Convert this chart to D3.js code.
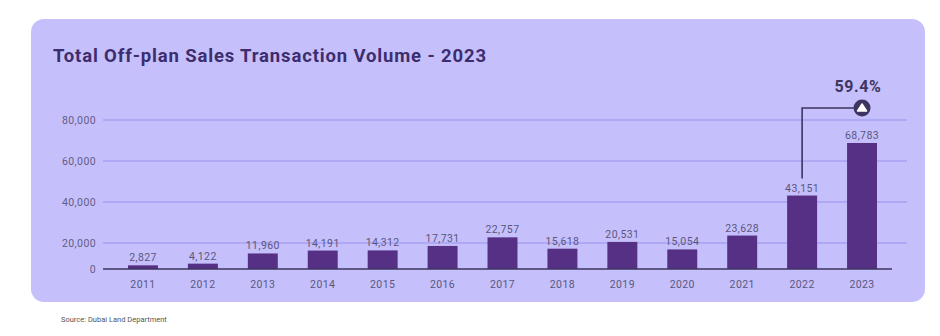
<!DOCTYPE html>
<html>
<head>
<meta charset="utf-8">
<script src="https://cdn.jsdelivr.net/npm/d3@7"></script>
<style>
  body { margin: 0; background: #fff; }
  svg { display: block; font-family: Roboto, "DejaVu Sans", sans-serif; }
</style>
</head>
<body>
<div id="chart"></div>
<script>
// data
var years = ["2011", "2012", "2013", "2014", "2015", "2016", "2017", "2018", "2019", "2020", "2021", "2022", "2023"];
var volumes = [2827, 4122, 11960, 14191, 14312, 17731, 22757, 15618, 20531, 15054, 23628, 43151, 68783];
var yTicks = [0, 20000, 40000, 60000, 80000];
var growthLabel = "59.4%";

const W = 940, H = 336;

var svg = d3.select("#chart")
  .append("svg")
  .attr("width", W)
  .attr("height", H);

// card
svg.append("rect")
  .attr("x", 31)
  .attr("y", 19)
  .attr("width", 894)
  .attr("height", 283)
  .attr("rx", 13)
  .attr("fill", "#c5c0fb");

svg.append("text")
  .attr("x", 53)
  .attr("y", 62)
  .attr("fill", "#3e2d6e")
  .attr("font-size", 18.5)
  .attr("font-weight", 700)
  .attr("textLength", 433)
  .text("Total Off-plan Sales Transaction Volume - 2023");

// the source chart's axis is not linear below 20,000, so piecewise
var y = d3.scaleLinear()
  .domain([0, 20000, 80000])
  .range([269, 243, 120]);

var x = d3.scaleBand()
  .domain(years)
  .range([113, 892])
  .paddingInner(0.5)
  .paddingOuter(0.25);

// gridlines + labels
var grid = svg.append("g");
grid.selectAll("line")
  .data(yTicks.filter(d => d > 0))
  .enter().append("line")
  .attr("x1", 103)
  .attr("x2", 907)
  .attr("y1", d => y(d))
  .attr("y2", d => y(d))
  .attr("stroke", "#a7a0f2")
  .attr("stroke-width", 1.3);

grid.selectAll("text")
  .data(yTicks)
  .enter().append("text")
  .attr("x", 96)
  .attr("y", d => y(d))
  .attr("dy", "0.35em")
  .attr("text-anchor", "end")
  .attr("fill", "#625c86")
  .attr("font-size", 10.5)
  .attr("letter-spacing", 0.4)
  .text(d => d3.format(",")(d));

// bars
svg.selectAll(".bar")
  .data(volumes)
  .enter().append("rect")
  .attr("class", "bar")
  .attr("x", (d, i) => x(years[i]))
  .attr("width", x.bandwidth())
  .attr("y", d => y(d))
  .attr("height", d => y(0) - y(d))
  .attr("fill", "#563084");

// baseline
svg.append("line")
  .attr("x1", 103)
  .attr("x2", 892)
  .attr("y1", y(0))
  .attr("y2", y(0))
  .attr("stroke", "#3d355f")
  .attr("stroke-width", 1.6);

// value labels
svg.selectAll(".val")
  .data(volumes)
  .enter().append("text")
  .attr("class", "val")
  .attr("x", (d, i) => x(years[i]) + x.bandwidth() / 2)
  .attr("y", d => y(d) - 4)
  .attr("text-anchor", "middle")
  .attr("fill", "#5b5680")
  .attr("font-size", 10.5)
  .attr("letter-spacing", 0.4)
  .text(d => d3.format(",")(d));

// year labels
svg.selectAll(".yr")
  .data(years)
  .enter().append("text")
  .attr("class", "yr")
  .attr("x", d => x(d) + x.bandwidth() / 2)
  .attr("y", 288)
  .attr("text-anchor", "middle")
  .attr("fill", "#5b5680")
  .attr("font-size", 10.5)
  .attr("letter-spacing", 0.4)
  .text(d => d);

// growth annotation 2022 -> 2023
var xa = x("2022") + x.bandwidth() / 2;
var xb = x("2023") + x.bandwidth() / 2;
var yTop = 108;
svg.append("path")
  .attr("d", `M${xa},${y(volumes[11]) - 17}V${yTop}H${xb}`)
  .attr("fill", "none")
  .attr("stroke", "#3d355f")
  .attr("stroke-width", 1.6);

svg.append("circle")
  .attr("cx", xb)
  .attr("cy", yTop)
  .attr("r", 8.5)
  .attr("fill", "#3d355f");

svg.append("path")
  .attr("d", `M${xb - 4.5},${yTop + 3}L${xb},${yTop - 4}L${xb + 4.5},${yTop + 3}Z`)
  .attr("fill", "#fff")
  .attr("stroke", "#fff")
  .attr("stroke-linejoin", "round")
  .attr("stroke-width", 1.5);

svg.append("text")
  .attr("x", xb - 4)
  .attr("y", 92)
  .attr("text-anchor", "middle")
  .attr("fill", "#3e3560")
  .attr("font-size", 16)
  .attr("font-weight", 700)
  .attr("letter-spacing", 0.6)
  .text(growthLabel);

svg.append("text")
  .attr("x", 61)
  .attr("y", 322)
  .attr("fill", "#555")
  .attr("font-size", 7.5)
  .text("Source: Dubai Land Department");
</script>
</body>
</html>
